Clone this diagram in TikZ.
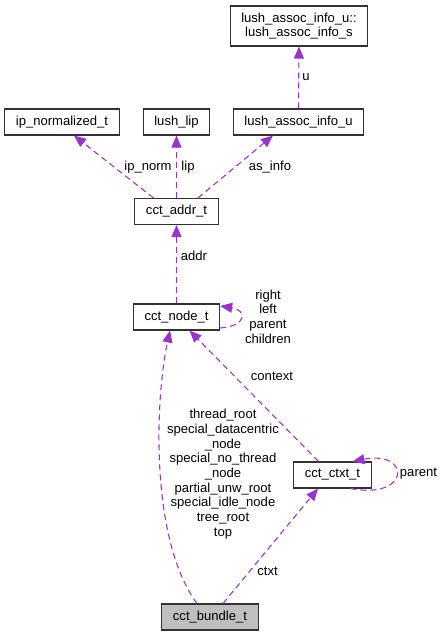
\documentclass[tikz,border=0pt]{standalone}
\usepackage{fontspec}
\setmainfont{Liberation Sans}
\usepackage{xcolor}
\usetikzlibrary{arrows.meta,calc}

\definecolor{edgepurple}{HTML}{9A32CD}
\definecolor{rootgray}{HTML}{BFBFBF}

\begin{document}
\begin{tikzpicture}[x=0.75pt,y=-0.75pt,
  font=\fontsize{9.8}{11}\selectfont,
  box/.style = {draw=black!80, line width=0.8pt, fill=white, inner xsep=8.4pt, inner ysep=0pt, minimum height=19.5pt},
  link/.style = {draw=edgepurple, line width=0.8pt, dash pattern=on 4.5pt off 3pt, -{Triangle[length=9pt,width=7.5pt,fill=edgepurple]}},
  lbl/.style = {inner sep=0pt, align=center}]
\useasboundingbox (0,0) rectangle (443,636);

% boxes
\node[box, align=center, minimum height=30pt] (infos) at (299,26) {lush\_assoc\_info\_u::\\lush\_assoc\_info\_s};
\node[box] (ipnorm) at (62,122) {ip\_normalized\_t};
\node[box] (lushlip) at (176.5,122) {lush\_lip};
\node[box] (infou) at (298.5,122) {lush\_assoc\_info\_u};
\node[box] (addr) at (176.5,211.5) {cct\_addr\_t};
\node[box] (cctnode) at (176.5,317) {cct\_node\_t};
\node[box] (ctxt) at (332.5,475) {cct\_ctxt\_t};
\node[box, fill=rootgray] (bundle) at (210,617) {cct\_bundle\_t};

% connectors
\draw[link] (infou.north) -- (infos.south);
\draw[link] ($(addr.north)+(-23,0)$) -- ($(ipnorm.south)+(12,0)$);
\draw[link] (addr.north) -- (lushlip.south);
\draw[link] ($(addr.north)+(21.5,0)$) -- ($(infou.south)+(-25.5,0)$);
\draw[link] (cctnode.north) -- (addr.south);
\draw[link] ($(cctnode.east)+(0,11)$) .. controls ($(cctnode.east)+(27,9)$) and ($(cctnode.east)+(27,-7)$) .. ($(cctnode.east)+(0,-11)$);
\draw[link] ($(ctxt.north)+(-14,0)$) -- ($(cctnode.south)+(13,0)$);
\draw[link] ($(bundle.north)+(-13,0)$) .. controls (150,540) and (155,400) .. ($(cctnode.south)+(-6.5,0)$);
\draw[link] ($(bundle.north)+(13,0)$) -- ($(ctxt.south)+(-14.5,0)$);
\draw[link] ($(ctxt.south)+(18,0)$) .. controls (411,500) and (411,450) .. ($(ctxt.north)+(20,0)$);

% labels
\node[lbl] (lblu) at (306,77) {u};
\node[lbl] (lblipnorm) at (148,167) {ip\_norm};
\node[lbl] (lbllip) at (188,167) {lip};
\node[lbl] (lblasinfo) at (270,167) {as\_info};
\node[lbl] (lbladdr) at (194,256) {addr};
\node[lbl] (lblself) at (268,316.5) {right\\left\\parent\\children};
\node[lbl] (lblcontext) at (272,376) {context};
\node[lbl] (lblroots) at (223,474) {thread\_root\\special\_datacentric\\\_node\\special\_no\_thread\\\_node\\partial\_unw\_root\\special\_idle\_node\\tree\_root\\top};
\node[lbl] (lblctxt) at (267.5,571) {ctxt};
\node[lbl] (lblparent) at (418.5,474) {parent};
\end{tikzpicture}
\end{document}
